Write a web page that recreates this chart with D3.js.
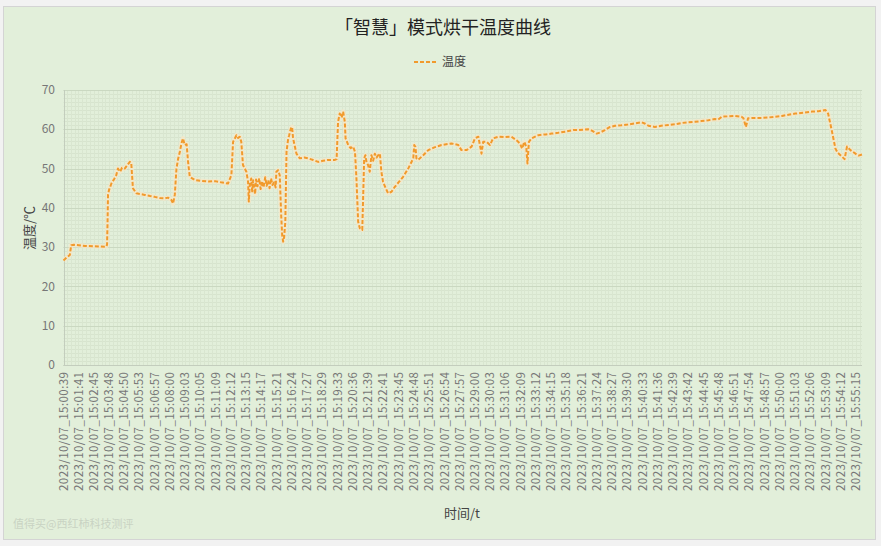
<!DOCTYPE html>
<html>
<head>
<meta charset="utf-8">
<script src="https://cdn.jsdelivr.net/npm/d3@7"></script>
<style>
  html, body { margin: 0; padding: 0; background: #f2f2f2; }
  svg { display: block; }
  text { font-family: "Noto Sans CJK SC", "Noto Sans", sans-serif; }
</style>
</head>
<body>
<svg id="chart" width="881" height="546"></svg>
<script>
// x轴刻度标签 (每隔约63秒一个)
var tickTimes = ["15:00:39","15:01:41","15:02:45","15:03:48","15:04:50","15:05:53","15:06:57","15:08:00",
  "15:09:03","15:10:05","15:11:09","15:12:12","15:13:15","15:14:17","15:15:21","15:16:24","15:17:27",
  "15:18:29","15:19:33","15:20:36","15:21:39","15:22:41","15:23:45","15:24:48","15:25:51","15:26:54",
  "15:27:57","15:29:00","15:30:03","15:31:06","15:32:09","15:33:12","15:34:15","15:35:18","15:36:21",
  "15:37:24","15:38:27","15:39:30","15:40:33","15:41:36","15:42:39","15:43:42","15:44:45","15:45:48",
  "15:46:51","15:47:54","15:48:57","15:50:00","15:51:03","15:52:06","15:53:09","15:54:12","15:55:15"]

// 采样时间 和 温度 (从图上读的)
var sampleTimes = ["15:00:39","15:00:49","15:01:05","15:01:11","15:01:22","15:02:08","15:02:49","15:03:35",
  "15:03:39","15:03:41","15:03:43","15:03:47","15:03:57","15:04:08","15:04:17","15:04:24","15:04:33","15:04:41",
  "15:04:52","15:05:02","15:05:13","15:05:19","15:05:26","15:05:40","15:06:15","15:06:37","15:06:56","15:07:18",
  "15:07:38","15:07:51","15:08:05","15:08:12","15:08:19","15:08:26","15:08:33","15:08:40","15:08:47","15:08:53",
  "15:09:00","15:09:08","15:09:14","15:09:21","15:09:42","15:10:04","15:10:37","15:11:06","15:11:30","15:11:59",
  "15:12:13","15:12:20","15:12:34","15:12:41","15:12:48","15:12:54","15:13:01","15:13:15","15:13:22","15:13:25",
  "15:13:29","15:13:35","15:13:39","15:13:43","15:13:47","15:13:51","15:13:55","15:14:01","15:14:08","15:14:14",
  "15:14:20","15:14:26","15:14:33","15:14:39","15:14:45","15:14:51","15:14:57","15:15:03","15:15:10","15:15:16",
  "15:15:19","15:15:26","15:15:33","15:15:39","15:15:43","15:15:47","15:15:51","15:15:56","15:16:01","15:16:08",
  "15:16:12","15:16:19","15:16:24","15:16:28","15:16:42","15:16:56","15:17:14","15:17:30","15:17:51","15:18:12",
  "15:18:32","15:18:53","15:19:21","15:19:28","15:19:34","15:19:41","15:19:49","15:19:55","15:20:02","15:20:05",
  "15:20:16","15:20:26","15:20:36","15:20:44","15:20:50","15:20:57","15:21:04","15:21:14","15:21:18","15:21:22",
  "15:21:27","15:21:32","15:21:38","15:21:45","15:21:52","15:21:59","15:22:06","15:22:13","15:22:20","15:22:27",
  "15:22:33","15:22:40","15:22:51","15:23:01","15:23:15","15:23:28","15:23:43","15:24:03","15:24:24","15:24:45",
  "15:24:49","15:24:54","15:24:58","15:25:05","15:25:26","15:25:47","15:26:12","15:26:42","15:27:23","15:27:51",
  "15:28:04","15:28:25","15:28:46","15:29:00","15:29:14","15:29:22","15:29:27","15:29:34","15:29:48","15:30:02",
  "15:30:15","15:30:36","15:31:05","15:31:31","15:31:52","15:32:06","15:32:15","15:32:24","15:32:32","15:32:37",
  "15:32:43","15:32:54","15:33:22","15:33:51","15:34:17","15:34:44","15:35:12","15:35:46","15:36:07","15:36:48",
  "15:37:05","15:37:23","15:37:38","15:37:57","15:38:15","15:38:39","15:39:05","15:39:32","15:40:03","15:40:29",
  "15:40:44","15:40:57","15:41:24","15:41:50","15:42:21","15:42:49","15:43:14","15:43:42","15:44:10","15:44:36",
  "15:45:05","15:45:32","15:45:46","15:46:00","15:46:27","15:46:55","15:47:22","15:47:30","15:47:40","15:47:49",
  "15:48:19","15:48:45","15:49:13","15:49:41","15:50:09","15:50:36","15:51:04","15:51:38","15:52:14","15:52:40",
  "15:53:09","15:53:20","15:53:36","15:53:50","15:54:00","15:54:11","15:54:28","15:54:38","15:54:52","15:55:13",
  "15:55:26","15:55:40"]

var temps = [26.6,27.2,28.0,30.5,30.6,30.3,30.2,30.1,
  30.6,36.0,43.3,44.5,46.2,47.3,48.3,50.0,49.2,50.2,
  50.0,50.8,51.7,51.5,45.0,43.7,43.3,43.0,42.8,42.5,
  42.4,42.6,42.0,41.1,43.3,50.0,52.5,54.3,56.5,57.7,
  56.0,56.2,51.7,47.9,47.1,46.9,46.7,46.8,46.5,46.2,
  48.3,56.8,58.5,57.8,58.1,56.8,50.9,49.2,46.6,41.6,
  45.8,47.5,44.2,47.0,45.0,43.5,47.2,45.5,47.5,44.8,
  46.8,45.2,47.8,45.6,47.0,45.0,47.5,45.8,46.5,45.2,
  49.2,49.6,48.3,38.0,33.0,31.4,32.5,36.5,54.3,57.7,
  58.5,60.2,60.6,57.7,53.8,52.6,52.8,52.6,52.2,51.7,
  52.0,52.2,52.2,52.4,61.9,64.0,63.0,64.5,61.9,57.7,
  56.0,55.2,55.6,54.3,47.5,36.5,34.8,34.4,43.3,52.6,
  53.4,51.5,50.9,49.2,53.4,52.0,53.8,52.8,53.4,53.8,
  49.2,46.6,45.0,43.7,44.1,45.3,46.4,47.9,50.0,52.6,
  56.0,55.5,52.6,52.2,53.4,54.7,55.4,56.0,56.4,56.0,
  54.7,54.7,55.6,57.7,58.1,55.5,53.8,56.8,56.8,56.0,
  57.7,58.1,58.0,58.1,57.2,56.4,55.1,56.8,55.5,51.3,
  56.8,57.7,58.5,58.7,58.9,59.1,59.4,59.8,59.8,60.0,
  59.6,58.9,59.2,59.8,60.5,60.9,61.0,61.2,61.5,61.8,
  61.4,60.9,60.6,60.9,61.1,61.3,61.6,61.8,61.9,62.1,
  62.3,62.6,62.5,63.2,63.3,63.4,63.2,62.8,60.6,62.8,
  62.9,62.9,63.0,63.2,63.4,63.7,64.0,64.2,64.5,64.6,
  64.9,64.0,59.4,55.1,54.0,53.4,52.4,55.6,54.7,53.8,
  53.3,53.6]

var yTicks = [0, 10, 20, 30, 40, 50, 60, 70]

var datePrefix = "2023/10/07"
var titleText = "「智慧」模式烘干温度曲线"
var seriesName = "温度"

!(function(){
  "use strict"

  var left = 63.5, right = 862, top = 90, bottom = 365
  var lineColor = "#f19a2c"
  var gray = "#777"

  var parse = d3.timeParse("%Y/%m/%d %H:%M:%S")
  var toDate = function(s) { return parse(datePrefix + " " + s) }

  var data = sampleTimes.map(function(t, i) { return { t: toDate(t), v: temps[i] } })

  var svg = d3.select("#chart")

  // 背景
  svg.append("rect").attr("x", 3.5).attr("y", 6.5).attr("width", 872).attr("height", 533)
    .attr("fill", "#e2efda").attr("stroke", "#d4d4d4")

  var x = d3.scaleTime()
    .domain([toDate(tickTimes[0]), data[data.length - 1].t])
    .range([left, right])
  var y = d3.scaleLinear().domain([0, 70]).range([bottom, top])

  var grid = svg.append("g")

  // 细网格 横向
  grid.selectAll(".hminor").data(d3.range(0, 70.01, 1))
    .enter().append("line")
    .attr("x1", left).attr("x2", right)
    .attr("y1", function(d) { return Math.round(y(d)) + 0.5 })
    .attr("y2", function(d) { return Math.round(y(d)) + 0.5 })
    .attr("stroke", "#d7e4ce").attr("stroke-width", 1)

  // 细网格 纵向 (每个刻度间分4份)
  var vMinor = []
  tickTimes.forEach(function(t, i) {
    var a = x(toDate(t))
    var b = i < tickTimes.length - 1 ? x(toDate(tickTimes[i + 1])) : a + (a - x(toDate(tickTimes[i - 1])))
    for (var k = 0; k < 4; k++) {
      var p = a + (b - a) * k / 4
      if (p <= right) vMinor.push(p)
    }
  })
  grid.selectAll(".vminor").data(vMinor)
    .enter().append("line")
    .attr("x1", function(d) { return Math.round(d) + 0.5 })
    .attr("x2", function(d) { return Math.round(d) + 0.5 })
    .attr("y1", top).attr("y2", bottom)
    .attr("stroke", "#d9e6d0").attr("stroke-width", 1)

  // 主网格
  grid.selectAll(".hmajor").data(yTicks)
    .enter().append("line")
    .attr("x1", left).attr("x2", right)
    .attr("y1", function(d) { return Math.round(y(d)) + 0.5 })
    .attr("y2", function(d) { return Math.round(y(d)) + 0.5 })
    .attr("stroke", "#cad8c1").attr("stroke-width", 1)

  // 轴线
  svg.append("line").attr("x1", left).attr("x2", right)
    .attr("y1", Math.round(y(0)) + 0.5).attr("y2", Math.round(y(0)) + 0.5)
    .attr("stroke", "#c3cdbd")
  svg.append("line").attr("x1", Math.round(left) + 0.5).attr("x2", Math.round(left) + 0.5)
    .attr("y1", top).attr("y2", bottom)
    .attr("stroke", "#c3cdbd")

  // y轴刻度
  svg.append("g").selectAll("text").data(yTicks)
    .enter().append("text")
    .attr("x", 55).attr("y", function(d) { return y(d) })
    .attr("dy", "0.35em").attr("text-anchor", "end")
    .attr("font-size", 12).attr("fill", gray)
    .text(function(d) { return d })

  // x轴刻度 (竖排)
  svg.append("g").selectAll("text").data(tickTimes)
    .enter().append("text")
    .attr("transform", function(d) { return "translate(" + x(toDate(d)) + ",372) rotate(-90)" })
    .attr("dy", "0.35em").attr("text-anchor", "end")
    .attr("font-family", "'Noto Sans', sans-serif")
    .attr("font-size", 11.5).attr("fill", gray)
    .attr("textLength", 119).attr("lengthAdjust", "spacing")
    .text(function(d) { return datePrefix + "_" + d })

  // 曲线
  var line = d3.line().x(function(d) { return x(d.t) }).y(function(d) { return y(d.v) })
  svg.append("path").datum(data).attr("d", line)
    .attr("fill", "none").attr("stroke", "#f9e7c6").attr("stroke-width", 4.5)
    .attr("stroke-linejoin", "round").attr("opacity", 0.7)
  svg.append("path").datum(data).attr("d", line)
    .attr("fill", "none").attr("stroke", lineColor).attr("stroke-width", 2)
    .attr("stroke-dasharray", "4,2").attr("stroke-linejoin", "round")

  // 标题
  svg.append("text").attr("x", 443).attr("y", 34).attr("text-anchor", "middle")
    .attr("font-size", 18).attr("fill", "#222").text(titleText)

  // 图例
  svg.append("line").attr("x1", 414).attr("x2", 438).attr("y1", 62).attr("y2", 62)
    .attr("stroke", lineColor).attr("stroke-width", 2).attr("stroke-dasharray", "4,2")
  svg.append("text").attr("x", 442).attr("y", 62).attr("dy", "0.35em")
    .attr("font-size", 12).attr("fill", "#444").text(seriesName)

  // 轴标题
  svg.append("text").attr("transform", "translate(29,228) rotate(-90)")
    .attr("text-anchor", "middle").attr("dy", "0.35em")
    .attr("font-size", 13).attr("fill", "#444").text("温度/℃")
  svg.append("text").attr("x", 462).attr("y", 518).attr("text-anchor", "middle")
    .attr("font-size", 13).attr("fill", "#444").text("时间/t")

  // 水印
  svg.append("text").attr("x", 13).attr("y", 528)
    .attr("font-size", 11).attr("fill", "#c9d3c3").text("值得买@西红柿科技测评")
}());
</script>
</body>
</html>
